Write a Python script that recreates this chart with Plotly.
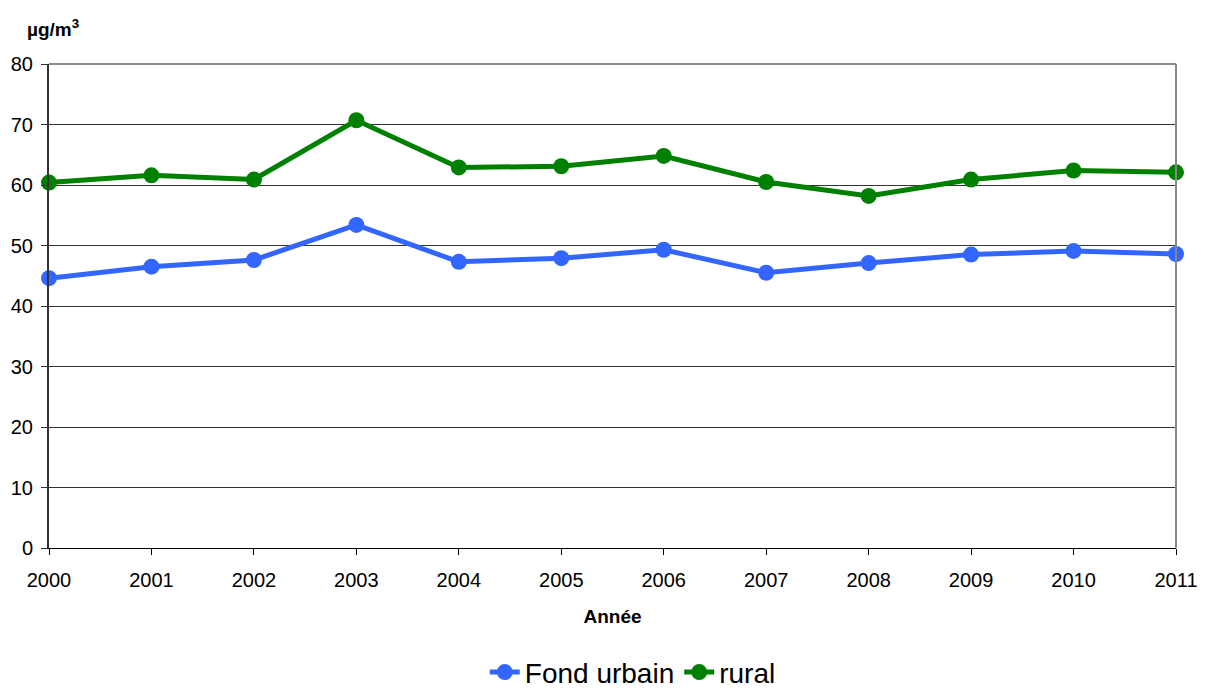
import plotly.graph_objects as go

years = [2000, 2001, 2002, 2003, 2004, 2005, 2006, 2007, 2008, 2009, 2010, 2011]
fond_urbain = [44.6, 46.5, 47.6, 53.4, 47.3, 47.9, 49.3, 45.5, 47.1, 48.5, 49.1, 48.6]
rural = [60.4, 61.6, 60.9, 70.7, 62.9, 63.1, 64.8, 60.5, 58.2, 60.9, 62.4, 62.1]

FONT = "Liberation Sans, Arial, sans-serif"

fig = go.Figure()
fig.add_trace(go.Scatter(x=years, y=fond_urbain, name="Fond urbain", mode="lines+markers",
                         line=dict(color="#3366FF", width=5),
                         marker=dict(color="#3366FF", size=16), cliponaxis=False))
fig.add_trace(go.Scatter(x=years, y=rural, name="rural", mode="lines+markers",
                         line=dict(color="#008000", width=5),
                         marker=dict(color="#008000", size=16), cliponaxis=False))

fig.update_layout(
    width=1205, height=690,
    margin=dict(l=49, r=29, t=64, b=142, autoexpand=False),
    paper_bgcolor="white", plot_bgcolor="white",
    font=dict(family=FONT, color="black"),
    showlegend=True,
    legend=dict(orientation="h", x=0.518, xanchor="center", y=-0.257, yanchor="middle",
                font=dict(size=28, family=FONT), itemwidth=30, tracegroupgap=0,
                bgcolor="rgba(0,0,0,0)"),
    xaxis=dict(range=[2000, 2011], tickmode="array", tickvals=years,
               ticktext=[str(y) for y in years],
               showgrid=False, zeroline=False, showline=True, linecolor="black", linewidth=1,
               ticks="outside", ticklen=6, tickcolor="black", ticklabelstandoff=8,
               tickfont=dict(size=20, family=FONT),
               title=dict(text="<b>Année</b>", font=dict(size=19, family=FONT), standoff=19)),
    yaxis=dict(range=[0, 80], dtick=10, tick0=0,
               showgrid=True, gridcolor="#333333", gridwidth=1, zeroline=False,
               showline=True, linecolor="#333333", linewidth=2,
               ticks="outside", ticklen=6, tickcolor="#333333", ticklabelstandoff=4,
               tickfont=dict(size=20, family=FONT)),
    shapes=[
        dict(type="line", xref="paper", yref="paper", x0=0, x1=1, y0=1, y1=1,
             line=dict(color="#888888", width=2)),
        dict(type="line", xref="paper", yref="paper", x0=1, x1=1, y0=0, y1=1,
             line=dict(color="#888888", width=2)),
    ],
    annotations=[
        dict(text="<b>µg/m<sup>3</sup></b>", xref="paper", yref="paper",
             x=-0.0213, y=1.074, xanchor="left", yanchor="middle", showarrow=False,
             font=dict(size=19, family=FONT)),
    ],
)

fig.write_html("out.html")
